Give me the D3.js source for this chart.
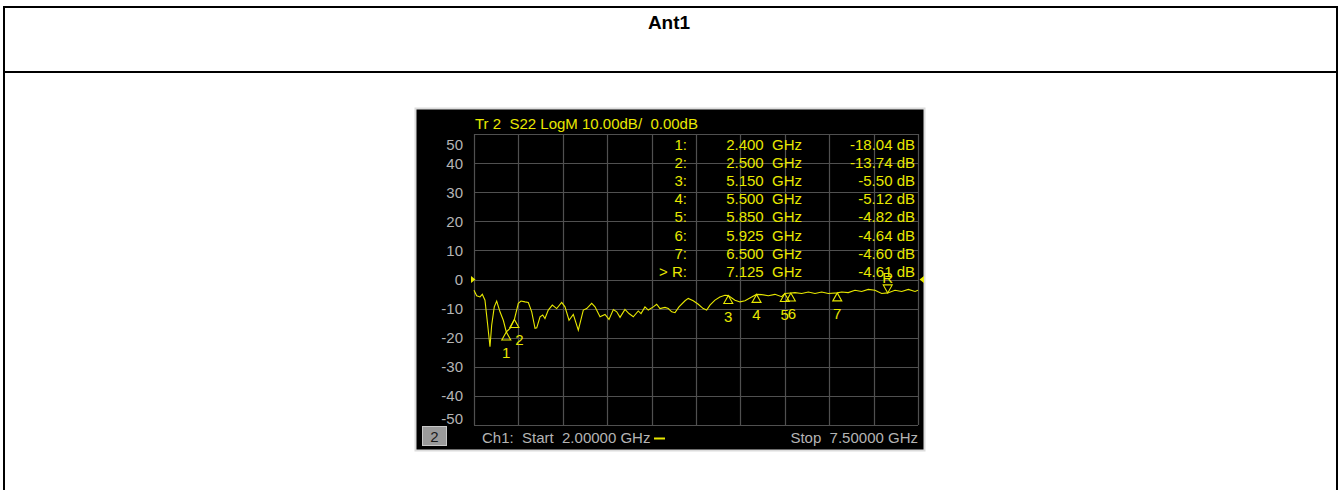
<!DOCTYPE html>
<html><head><meta charset="utf-8">
<script src="https://cdn.jsdelivr.net/npm/d3@7"></script>
<style>
html,body{margin:0;padding:0;background:#fff;}
svg{display:block;font-family:Arial,"Liberation Sans",sans-serif;}
</style></head>
<body>
<svg id="c" width="1344" height="490"></svg>
<script>
// ---- data ----
const title = "Ant1";
const traceFreq = [2.00,2.033,2.074,2.103,2.136,2.170,2.198,2.219,2.251,2.281,2.322,2.363,2.40,2.446,2.50,2.549,2.582,2.632,2.673,2.715,2.756,2.777,2.818,2.851,2.879,2.920,2.970,3.024,3.086,3.127,3.177,3.230,3.292,3.354,3.396,3.458,3.499,3.561,3.623,3.672,3.726,3.768,3.809,3.870,3.920,3.973,4.035,4.069,4.118,4.159,4.221,4.263,4.304,4.366,4.407,4.449,4.490,4.539,4.614,4.654,4.716,4.778,4.840,4.882,4.923,4.985,5.046,5.108,5.15,5.233,5.295,5.357,5.440,5.50,5.564,5.646,5.728,5.811,5.85,5.925,5.976,6.059,6.141,6.224,6.307,6.389,6.50,6.555,6.636,6.719,6.802,6.884,6.967,7.050,7.125,7.215,7.298,7.380,7.463,7.50];
const traceDb = [-3.7,-5.6,-6.0,-5.1,-7.1,-15.7,-23.1,-15.7,-9.4,-7.4,-11.1,-14.0,-18.04,-16.8,-13.74,-8.2,-7.4,-7.7,-7.9,-11.1,-16.8,-16.6,-12.8,-12.2,-13.4,-10.5,-8.8,-10.0,-7.9,-9.4,-14.0,-12.0,-17.4,-10.5,-10.0,-8.2,-9.4,-12.8,-12.0,-13.7,-10.3,-11.1,-13.0,-10.3,-11.7,-12.8,-10.8,-11.7,-9.4,-10.5,-9.4,-8.5,-10.0,-9.6,-10.0,-11.1,-11.4,-9.4,-7.3,-6.5,-7.3,-8.5,-10.0,-10.5,-8.8,-7.1,-6.0,-5.4,-5.5,-7.1,-7.7,-7.3,-6.0,-5.12,-5.2,-5.6,-5.1,-5.9,-4.82,-4.64,-4.5,-4.8,-4.3,-4.8,-4.3,-4.8,-4.6,-4.3,-4.5,-3.7,-4.1,-3.4,-3.7,-4.8,-4.61,-3.7,-4.1,-3.4,-4.1,-3.7];
const markerNames = ["1","2","3","4","5","6","7","R"];
const markerRowLabels = ["1:","2:","3:","4:","5:","6:","7:","> R:"];
const markerFreq = [2.400,2.500,5.150,5.500,5.850,5.925,6.500,7.125];
const markerDb = [-18.04,-13.74,-5.50,-5.12,-4.82,-4.64,-4.60,-4.61];
const yTicks = [50,40,30,20,10,0,-10,-20,-30,-40,-50];
const xStart = 2.0, xStop = 7.5;
const headerText = "Tr 2  S22 LogM 10.00dB/  0.00dB";

// ---- drawing ----
const NB = s => s.replace(/ /g, "\u00a0");
const svg = d3.select("#c");
const YEL = "#e8e800", GRID = "#505050", GRAY = "#b4b4b4";

// outer table
svg.append("rect").attr("x",4).attr("y",7).attr("width",1333).attr("height",500)
  .attr("fill","none").attr("stroke","#000").attr("stroke-width",2);
svg.append("line").attr("x1",4).attr("x2",1337).attr("y1",72).attr("y2",72)
  .attr("stroke","#000").attr("stroke-width",2);
svg.append("text").attr("x",669).attr("y",29).attr("text-anchor","middle")
  .attr("font-weight","bold").attr("font-size",19).text(title);

// instrument screen
svg.append("rect").attr("x",415.5).attr("y",108.5).attr("width",509).attr("height",342)
  .attr("fill","#000").attr("stroke","#dcdcdc").attr("stroke-width",2);

const x = d3.scaleLinear().domain([xStart,xStop]).range([474,918]);
const y = d3.scaleLinear().domain([-50,50]).range([425,134]);

const g = svg.append("g");
const xGrid = d3.range(0,11).map(i => xStart + i*(xStop-xStart)/10);
g.selectAll(".vg").data(xGrid).join("line")
  .attr("x1",d=>Math.round(x(d))+0.5).attr("x2",d=>Math.round(x(d))+0.5)
  .attr("y1",y(50)).attr("y2",y(-50)).attr("stroke",GRID).attr("stroke-width",1.2);
g.selectAll(".hg").data(yTicks).join("line")
  .attr("x1",x(xStart)).attr("x2",x(xStop))
  .attr("y1",d=>Math.round(y(d))+0.5).attr("y2",d=>Math.round(y(d))+0.5)
  .attr("stroke",GRID).attr("stroke-width",1.2);

// y tick labels
g.selectAll(".yl").data(yTicks).join("text")
  .attr("x",463).attr("text-anchor","end").attr("font-size",15).attr("fill",GRAY)
  .attr("y",d=>{let yy=y(d); if(d===50) yy+=10; if(d===-50) yy-=7; return yy+5.5;})
  .text(d=>String(d));

// header
svg.append("text").attr("x",475).attr("y",128.5).attr("font-size",15).attr("fill",YEL)
  .text(NB(headerText));

// marker table
const rowY = i => 149.5 + i*18.2;
const tbl = svg.append("g").attr("font-size",15).attr("fill",YEL);
tbl.selectAll(".c1").data(markerRowLabels).join("text")
  .attr("x",687).attr("y",(d,i)=>rowY(i)).attr("text-anchor","end").text(d=>NB(d));
tbl.selectAll(".c2").data(markerFreq).join("text")
  .attr("x",802).attr("y",(d,i)=>rowY(i)).attr("text-anchor","end")
  .text(d=>NB(d.toFixed(3)+"  GHz"));
tbl.selectAll(".c3").data(markerDb).join("text")
  .attr("x",915).attr("y",(d,i)=>rowY(i)).attr("text-anchor","end")
  .text(d=>NB(d.toFixed(2)+" dB"));

// reference level arrows at 0 dB
const r0 = y(0);
svg.append("path").attr("d",`M${x(xStart)-3},${r0-3.5}L${x(xStart)+1.5},${r0}L${x(xStart)-3},${r0+3.5}Z`).attr("fill",YEL);
svg.append("path").attr("d",`M${x(xStop)+6},${r0-3.5}L${x(xStop)+1.5},${r0}L${x(xStop)+6},${r0+3.5}Z`).attr("fill",YEL);

// trace
const pts = traceFreq.map((f,i)=>[f,traceDb[i]]);
svg.append("path").datum(pts)
  .attr("d",d3.line().x(d=>x(d[0])).y(d=>y(d[1])))
  .attr("fill","none").attr("stroke",YEL).attr("stroke-width",1.1);

// markers
const mk = svg.append("g");
markerFreq.forEach((f,i)=>{
  const mx = x(f), my = y(markerDb[i]);
  const name = markerNames[i];
  if(name==="R"){
    mk.append("path").attr("d",`M${mx},${my}L${mx-4.5},${my-8}L${mx+4.5},${my-8}Z`)
      .attr("fill","none").attr("stroke",YEL).attr("stroke-width",1.1);
    mk.append("text").attr("x",mx).attr("y",my-10).attr("text-anchor","middle")
      .attr("font-size",15).attr("fill",YEL).text(name);
  } else {
    mk.append("path").attr("d",`M${mx},${my}L${mx-4.5},${my+8}L${mx+4.5},${my+8}Z`)
      .attr("fill","none").attr("stroke",YEL).attr("stroke-width",1.1);
    let lx = mx, ly = my+26, anchor="middle";
    if(name==="2"){ lx = mx+1; ly = my+26; anchor="start"; }
    if(name==="5"){ lx = mx+4; anchor="end"; }
    if(name==="6"){ lx = mx-3; anchor="start"; }
    mk.append("text").attr("x",lx).attr("y",ly).attr("text-anchor",anchor)
      .attr("font-size",15).attr("fill",YEL).text(name);
  }
});

// bottom status
svg.append("rect").attr("x",422.5).attr("y",426.5).attr("width",24).attr("height",19)
  .attr("fill","#9a9a9a").attr("stroke","#c8c8c8").attr("stroke-width",1);
svg.append("text").attr("x",434.5).attr("y",442).attr("text-anchor","middle")
  .attr("font-size",15).attr("fill","#1a1a1a").text("2");
svg.append("text").attr("x",482).attr("y",443).attr("font-size",15).attr("fill",GRAY)
  .text(NB("Ch1:  Start  " + xStart.toFixed(5) + " GHz"));
svg.append("line").attr("x1",654).attr("x2",665).attr("y1",438.5).attr("y2",438.5)
  .attr("stroke",YEL).attr("stroke-width",2);
svg.append("text").attr("x",918).attr("y",443).attr("text-anchor","end").attr("font-size",15).attr("fill",GRAY)
  .text(NB("Stop  " + xStop.toFixed(5) + " GHz"));
</script>
</body></html>
